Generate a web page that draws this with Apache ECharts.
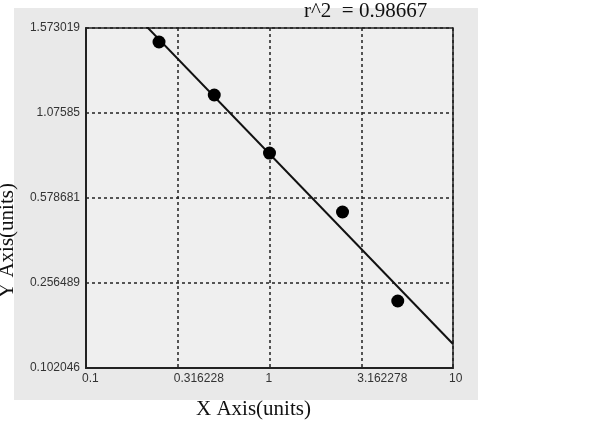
<!DOCTYPE html>
<html><head><meta charset="utf-8">
<script src="https://cdn.jsdelivr.net/npm/echarts@6/dist/echarts.min.js"></script>
<style>html,body{margin:0;padding:0;background:#fff}#c{width:600px;height:442px}</style>
</head><body><div id="c"></div>
<script>
// Data
const xValues = [0.25, 0.5, 1, 2.5, 5];
// y positions in axis units (tick index 0..4 corresponds to the tick labels below)
const yValues = [3.835, 3.212, 2.529, 1.835, 0.788];
const fitX = [0.1, 10];
const fitY = [4.756, 0.282];
const xTickLabels = ['0.1', '0.316228', '1', '3.162278', '10'];
const yTickLabels = ['0.102046', '0.256489', '0.578681', '1.07585', '1.573019'];
const rSquared = '0.98667';

const chart = echarts.init(document.getElementById('c'));
const xTickVals = [0.1, Math.sqrt(0.1), 1, Math.sqrt(10), 10];
function xLabel(v){
  let best = 0, bd = Infinity;
  xTickVals.forEach((t,i)=>{const d=Math.abs(Math.log10(v)-Math.log10(t)); if(d<bd){bd=d;best=i;}});
  return xTickLabels[best];
}
chart.setOption({
  animation: false,
  backgroundColor: '#fff',
  graphic: [
    {type:'rect', shape:{x:14,y:8,width:464,height:392}, style:{fill:'#e9e9e9'}, z:-10, silent:true},
    {type:'text', left:304, top:1, style:{text:'r^2  = ' + rSquared, font:'21px "Liberation Serif"', fill:'#111'}},
    {type:'text', left:196, top:399, style:{text:'X Axis(units)', font:'21px "Liberation Serif"', fill:'#111'}},
    {type:'text', x:-3, y:298, rotation:Math.PI/2, style:{text:'Y Axis(units)', font:'21px "Liberation Serif"', fill:'#111'}}
  ],
  grid: {left:86, right:147, top:28, bottom:74, show:true, backgroundColor:'#efefef', borderColor:'#222', borderWidth:1.5},
  xAxis: {
    type:'log', logBase:10, min:0.1, max:10, interval:0.5,
    axisLine:{show:true, lineStyle:{color:'#222', width:2}},
    axisTick:{show:false},
    axisLabel:{formatter:v=>xLabel(v), align:'left', margin:5, color:'#333', fontFamily:'Liberation Sans', fontSize:12, padding:[0,0,0,-4]},
    splitLine:{show:true, lineStyle:{color:'#222', type:[3,3], width:1.5}},
    minorTick:{show:false}, minorSplitLine:{show:false}
  },
  yAxis: {
    type:'value', min:0, max:4, interval:1,
    axisLine:{show:true, lineStyle:{color:'#222', width:2}},
    axisTick:{show:false},
    axisLabel:{formatter:v=>yTickLabels[Math.round(v)], margin:6, color:'#333', fontFamily:'Liberation Sans', fontSize:12},
    splitLine:{show:true, lineStyle:{color:'#222', type:[3,3], width:1.5}}
  },
  series: [
    {type:'line', data: fitX.map((x,i)=>[x, fitY[i]]), showSymbol:false, symbol:'none', lineStyle:{color:'#111', width:2}, clip:true, z:2},
    {type:'scatter', data: xValues.map((x,i)=>[x, yValues[i]]), symbolSize:13, itemStyle:{color:'#000', opacity:1}, z:3}
  ]
});
</script></body></html>
